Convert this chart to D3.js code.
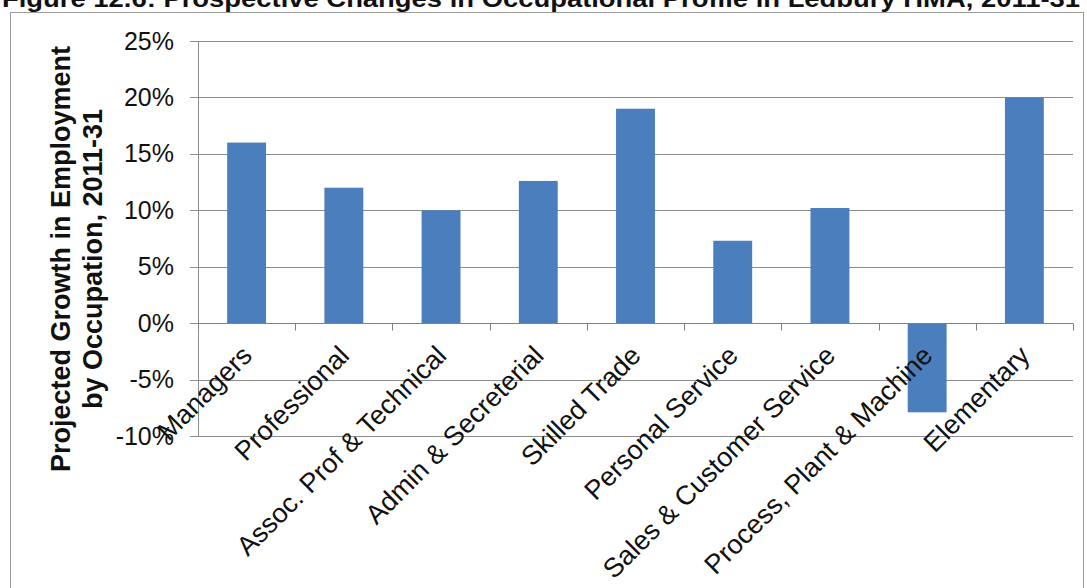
<!DOCTYPE html>
<html lang="en">
<head>
  <meta charset="UTF-8">
  <title>Occupational Profile</title>
  <style>
    body { margin: 0; background: #fff; }
    text { font-family: "Liberation Sans", Arial, sans-serif; fill: #111; }
  </style>
</head>
<body>

  <svg id="svg" width="1087" height="588"></svg>

  <script src="https://cdn.jsdelivr.net/npm/d3@7"></script>
  <script>
    const categories = ['Managers', 'Professional', 'Assoc. Prof & Technical', 'Admin & Secreterial',
      'Skilled Trade', 'Personal Service', 'Sales & Customer Service', 'Process, Plant & Machine', 'Elementary'];
    const growth = [0.16, 0.12, 0.10, 0.126, 0.19, 0.073, 0.102, -0.079, 0.20];
    const yTicks = [-0.10, -0.05, 0, 0.05, 0.10, 0.15, 0.20, 0.25];

    const svg = d3.select('#svg');

    // title - the top of it is cut by the page edge in the source
    svg.append('text')
      .attr('x', 2)
      .attr('y', 7)
      .attr('textLength', 1078)
      .attr('lengthAdjust', 'spacingAndGlyphs')
      .style('font-size', '24px')
      .style('font-weight', 'bold')
      .text('Figure 12.6: Prospective Changes in Occupational Profile in Ledbury HMA,  2011-31');

    // chart frame
    svg.append('rect')
      .attr('x', 10.5).attr('y', 12.5)
      .attr('width', 1073).attr('height', 590)
      .attr('fill', 'none')
      .attr('stroke', '#9a9a9a');

    const x = d3.scaleBand()
      .domain(categories)
      .range([198, 1073])
      .paddingInner(0.6)
      .paddingOuter(0.3);

    const y = d3.scaleLinear()
      .domain([-0.10, 0.25])
      .range([436, 41]);

    // gridlines
    svg.append('g')
      .selectAll('line')
      .data(yTicks)
      .enter()
      .append('line')
      .attr('x1', 190)
      .attr('x2', 1073)
      .attr('y1', d => Math.round(y(d)) + 0.5)
      .attr('y2', d => Math.round(y(d)) + 0.5)
      .attr('stroke', '#8c8c8c');

    // y axis line + labels
    svg.append('line')
      .attr('x1', 198.5).attr('x2', 198.5)
      .attr('y1', y(0.25)).attr('y2', y(-0.10))
      .attr('stroke', '#8c8c8c');

    const yAxis = svg.append('g')
      .attr('transform', 'translate(198,0)')
      .call(d3.axisLeft(y).tickValues(yTicks).tickSize(0).tickPadding(24)
        .tickFormat(d => Math.round(d * 100) + '%'));
    yAxis.select('.domain').remove();
    yAxis.selectAll('text')
      .style('font-size', '25px')
      .style('font-family', '"Liberation Sans", Arial, sans-serif')
      .attr('fill', '#111');

    // bars
    svg.append('g')
      .selectAll('rect')
      .data(growth)
      .enter()
      .append('rect')
      .attr('x', (d, i) => x(categories[i]))
      .attr('y', d => y(Math.max(0, d)))
      .attr('width', x.bandwidth())
      .attr('height', d => Math.abs(y(d) - y(0)))
      .attr('fill', '#4a7ebc');

    // x axis line with ticks between categories
    const y0 = Math.round(y(0)) + 0.5;
    svg.append('line')
      .attr('x1', 198).attr('x2', 1073)
      .attr('y1', y0).attr('y2', y0)
      .attr('stroke', '#808080');
    svg.append('g')
      .selectAll('line')
      .data(d3.range(categories.length + 1))
      .enter()
      .append('line')
      .attr('x1', i => Math.round(x.range()[0] + i * x.step()) + 0.5)
      .attr('x2', i => Math.round(x.range()[0] + i * x.step()) + 0.5)
      .attr('y1', y0)
      .attr('y2', y0 + 7)
      .attr('stroke', '#808080');

    // category labels, rotated
    svg.append('g')
      .selectAll('text')
      .data(categories)
      .enter()
      .append('text')
      .attr('transform', d => `translate(${x(d) + x.bandwidth() / 2 + 7},${y(0) + 34}) rotate(-45)`)
      .attr('text-anchor', 'end')
      .style('font-size', '27px')
      .text(d => d);

    // y axis title
    const yTitle = svg.append('text')
      .attr('transform', 'translate(70,259) rotate(-90)')
      .attr('text-anchor', 'middle')
      .style('font-size', '27px')
      .style('font-weight', 'bold');
    yTitle.append('tspan').attr('x', 0).attr('y', 0).text('Projected Growth in Employment');
    yTitle.append('tspan').attr('x', 0).attr('y', 32).text('by Occupation, 2011-31');
  </script>
</body>
</html>
